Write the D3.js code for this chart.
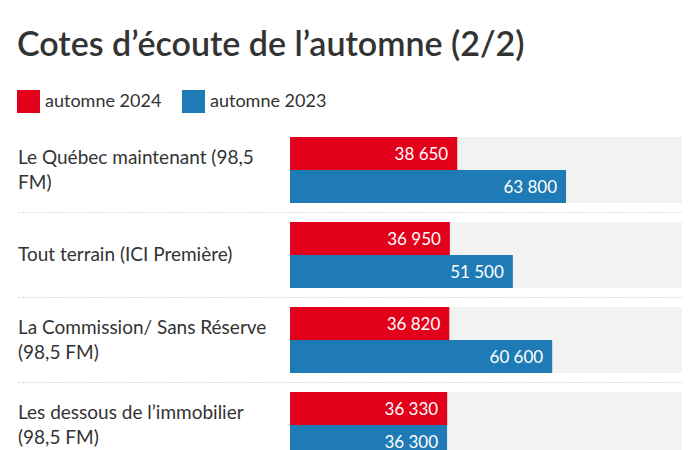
<!DOCTYPE html>
<html><head><meta charset="utf-8">
<script src="https://cdn.jsdelivr.net/npm/d3@7"></script>
<style>body{margin:0;background:#fff;} svg{display:block;font-family:Lato,"Open Sans",sans-serif;}</style>
</head><body>
<svg id="c" width="700" height="450"></svg>
<script>
const categories = [
  ["Le Québec maintenant (98,5", "FM)"],
  ["Tout terrain (ICI Première)"],
  ["La Commission/ Sans Réserve", "(98,5 FM)"],
  ["Les dessous de l’immobilier", "(98,5 FM)"]
];
const values2024 = [38650, 36950, 36820, 36330];
const values2023 = [63800, 51500, 60600, 36300];
const seriesNames = ["automne 2024", "automne 2023"];
const colors = ["#e2001a", "#1f7bb5"];

const svg = d3.select("#c");
svg.append("text").attr("x", 17).attr("y", 56).attr("fill", "#333")
  .attr("font-size", 34).attr("font-weight", 600).text("Cotes d’écoute de l’automne (2/2)");

// legend
const lg = svg.append("g");
const legendX = [17, 182];
seriesNames.forEach((n, i) => {
  lg.append("rect").attr("x", legendX[i]).attr("y", 90).attr("width", 23).attr("height", 23).attr("fill", colors[i]);
  lg.append("text").attr("x", legendX[i] + 28).attr("y", 107).attr("font-size", 18).attr("fill", "#333").text(n);
});

const x = d3.scaleLinear().domain([0, 90600]).range([290, 682]);
const yb = d3.scaleBand().domain(d3.range(categories.length)).range([137, 137 + 85 * 4 - 19]).paddingInner(19/85);
const sub = d3.scaleBand().domain([0, 1]).range([0, yb.bandwidth()]);

const g = svg.append("g");
categories.forEach((lines, i) => {
  const y0 = yb(i);
  const bw = yb.bandwidth();
  g.append("rect").attr("x", x(0)).attr("y", y0).attr("width", x.range()[1] - x(0)).attr("height", bw).attr("fill", "#f2f2f2");
  [values2024[i], values2023[i]].forEach((v, k) => {
    g.append("rect").attr("x", x(0)).attr("y", y0 + sub(k)).attr("width", x(v) - x(0)).attr("height", sub.bandwidth()).attr("fill", colors[k]);
    g.append("text").attr("x", x(v) - 9).attr("y", y0 + sub(k) + sub.bandwidth() / 2 + 6)
      .attr("text-anchor", "end").attr("fill", "#fff").attr("font-size", 17)
      .text(d3.format(",")(v).replace(",", " "));
  });
  const cy = y0 + bw / 2;
  const lh = 25;
  lines.forEach((ln, j) => {
    g.append("text").attr("x", 18).attr("y", cy + 6 + (j - (lines.length - 1) / 2) * lh)
      .attr("font-size", 19).attr("fill", "#333").text(ln);
  });
  if (i < categories.length - 1) {
    g.append("line").attr("x1", 18).attr("x2", 682).attr("y1", y0 + bw + 9.5).attr("y2", y0 + bw + 9.5)
      .attr("stroke", "#c8c8c8").attr("stroke-width", 1).attr("stroke-dasharray", "1,1.5");
  }
});
</script>
</body></html>
